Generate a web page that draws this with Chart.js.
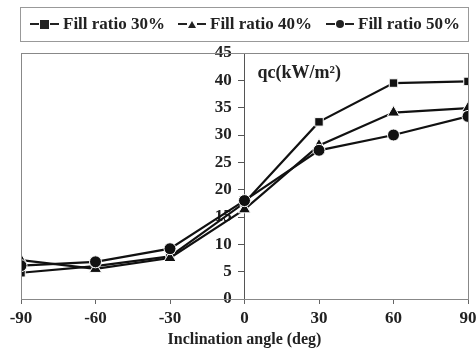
<!DOCTYPE html>
<html>
<head>
<meta charset="utf-8">
<script src="https://cdn.jsdelivr.net/npm/chart.js@4"></script>
<style>
  body { margin: 0; background: #fff; }
  #wrap { position: relative; width: 476px; height: 349px; }
  #legend {
    position: absolute; left: 20px; top: 7px; width: 449px; height: 35px;
    border: 1px solid #999; box-sizing: border-box;
    font: bold 17px "Liberation Serif", serif; color: #222;
  }
  .item { position: absolute; top: 6px; display: flex; align-items: center; white-space: nowrap; }
  .dash { width: 9px; height: 2px; background: #222; }
  .mk { margin: 0 1px; background: #222; }
  .sq { width: 9px; height: 9px; }
  .ci { width: 8px; height: 8px; border-radius: 50%; }
  .tri { width: 0; height: 0; background: none; border-left: 4px solid transparent; border-right: 4px solid transparent; border-bottom: 7px solid #222; }
  .txt { margin-left: 4px; }
</style>
</head>
<body>
<div id="wrap">
  <canvas id="c" width="476" height="349"></canvas>
  <div id="legend"></div>
</div>
<script>
// 数据
const angles = [-90, -60, -30, 0, 30, 60, 90];
const seriesNames = ['Fill ratio 30%', 'Fill ratio 40%', 'Fill ratio 50%'];
const ratio30 = [4.8, 6.0, 7.8, 17.6, 32.4, 39.5, 39.8];
const ratio40 = [7.1, 5.5, 7.5, 16.4, 28.1, 34.1, 34.9];
const ratio50 = [6.1, 6.8, 9.2, 18.0, 27.2, 30.0, 33.4];
const yTicks = [0, 5, 10, 15, 20, 25, 30, 35, 40, 45];

const markers = ['rect', 'triangle', 'circle'];
const legendCls = ['sq', 'tri', 'ci'];
const legendLeft = [9, 157, 305];

// 图例
const legend = document.getElementById('legend');
seriesNames.forEach((name, i) => {
    const item = document.createElement('div');
    item.className = 'item';
    item.style.left = legendLeft[i] + 'px';
    item.innerHTML = `<span class="dash"></span><span class="mk ${legendCls[i]}"></span><span class="dash"></span><span class="txt">${name}</span>`;
    legend.appendChild(item);
});

function toPoints(vals) {
    return angles.map((a, i) => ({ x: a, y: vals[i] }));
}

// 图框和单位标签
const framePlugin = {
    id: 'frame',
    afterDraw(chart) {
        const ctx = chart.ctx;
        const a = chart.chartArea;
        ctx.save();
        ctx.strokeStyle = '#888';
        ctx.lineWidth = 1;
        ctx.strokeRect(a.left + 0.5, a.top + 0.5, a.right - a.left, a.bottom - a.top);
        const xs = chart.scales.x, ys = chart.scales.y;
        ctx.fillStyle = '#222';
        ctx.font = 'bold 18px "Liberation Serif", serif';
        ctx.textBaseline = 'middle';
        ctx.fillText('qc(kW/m²)', xs.getPixelForValue(0) + 13, ys.getPixelForValue(41.3));
        ctx.restore();
    }
};

const allSeries = [ratio30, ratio40, ratio50];

new Chart(document.getElementById('c'), {
    type: 'line',
    data: {
        datasets: allSeries.map((vals, i) => ({
            label: seriesNames[i],
            data: toPoints(vals),
            borderColor: '#111',
            borderWidth: 2.2,
            backgroundColor: '#111',
            pointStyle: markers[i],
            pointRadius: i === 1 ? 7 : 6,
            pointBorderColor: '#fff',
            pointBorderWidth: 1,
            pointBackgroundColor: '#111',
            tension: 0,
            order: 3 - i
        }))
    },
    options: {
        responsive: false,
        animation: false,
        layout: { padding: { top: 53, left: 21, right: 8, bottom: 0 } },
        plugins: { legend: { display: false }, tooltip: { enabled: false } },
        scales: {
            x: {
                type: 'linear',
                min: -90,
                max: 90,
                afterBuildTicks: s => { s.ticks = angles.map(v => ({ value: v })); },
                afterFit: s => { s.height = 50; s.paddingLeft = 0; s.paddingRight = 0; },
                grid: { drawOnChartArea: false, tickLength: 5, color: '#666' },
                border: { color: '#888' },
                ticks: { color: '#222', padding: 4, maxRotation: 0, font: { family: 'Liberation Serif', size: 17, weight: 'bold' } },
                title: {
                    display: true,
                    text: 'Inclination angle (deg)',
                    color: '#222',
                    padding: { top: 0, bottom: 0 },
                    font: { family: 'Liberation Serif', size: 16, weight: 'bold' }
                }
            },
            y: {
                position: { x: 0 },
                min: 0,
                max: 45,
                afterBuildTicks: s => { s.ticks = yTicks.map(v => ({ value: v })); },
                grid: { drawOnChartArea: false, tickLength: 6, color: '#555' },
                border: { color: '#555' },
                // 轴放在 x=0 时 padding 不起作用，用尾部空格留出间距
                ticks: {
                    color: '#222',
                    callback: v => v + '   ',
                    font: { family: 'Liberation Serif', size: 17, weight: 'bold' }
                }
            }
        }
    },
    plugins: [framePlugin]
});
</script>
</body>
</html>
